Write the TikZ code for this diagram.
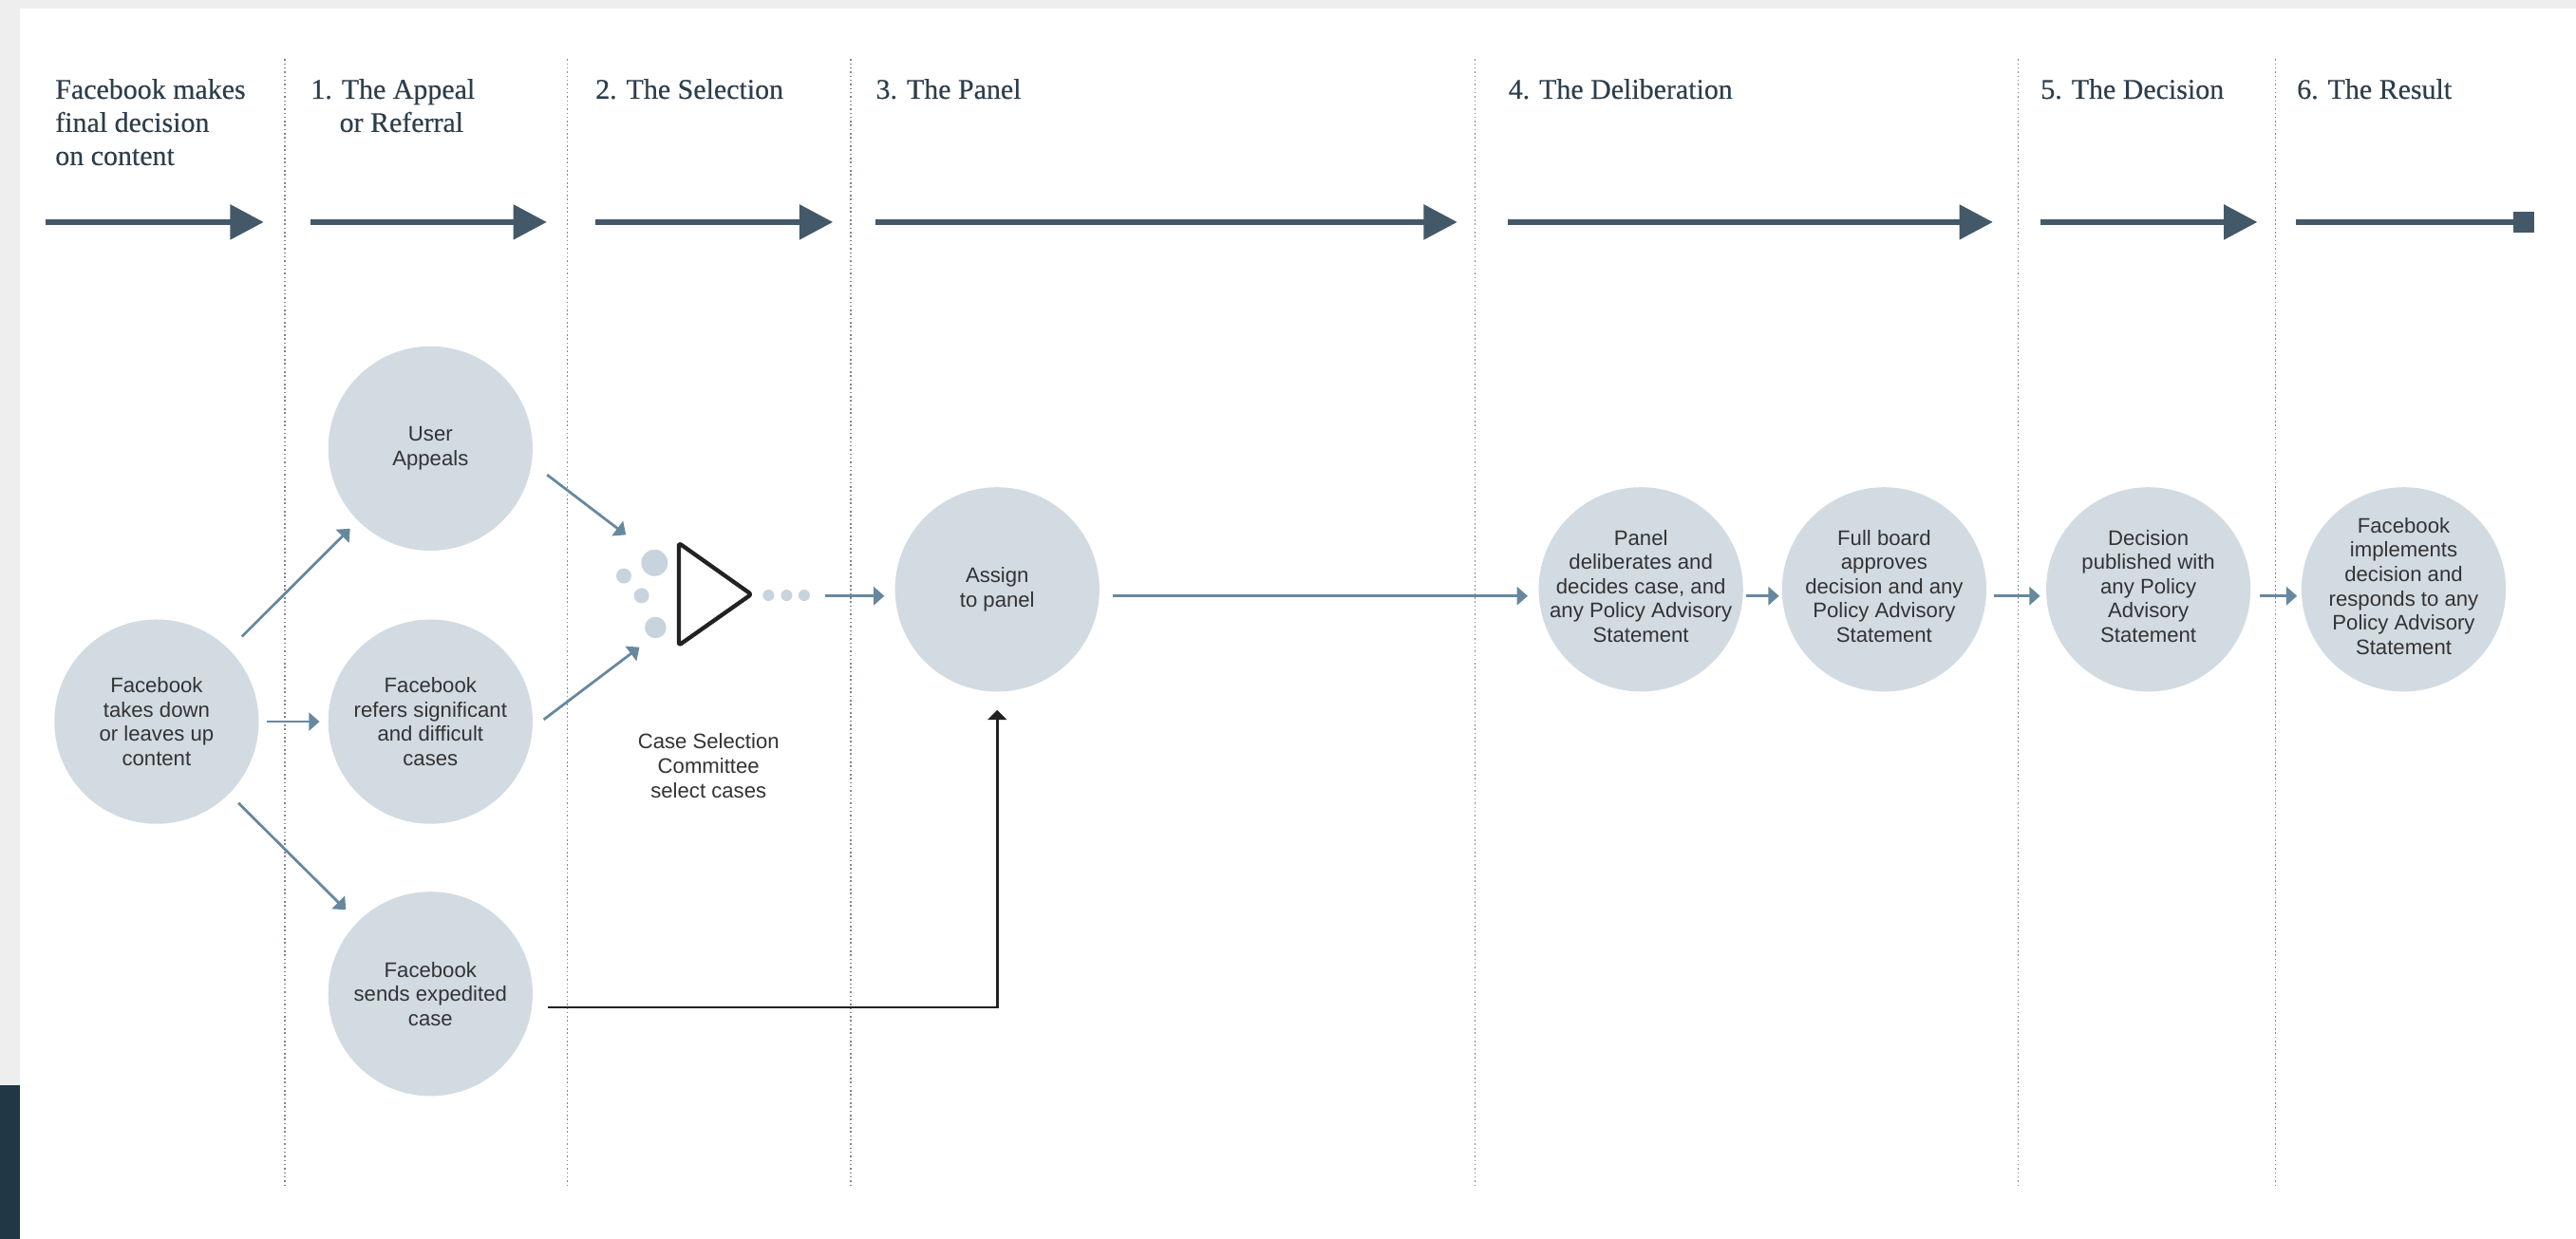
\documentclass[tikz,border=0pt]{standalone}
\usepackage{fontspec}
\setmainfont{Liberation Sans}
\newfontfamily\hdfont[FakeBold=0.3]{Liberation Serif}
\usetikzlibrary{arrows.meta,calc}
\definecolor{hdtext}{RGB}{45,62,75}
\definecolor{bigarrow}{RGB}{67,89,106}
\definecolor{thinblue}{RGB}{102,136,158}
\definecolor{circfill}{RGB}{210,219,226}
\definecolor{dotfill}{RGB}{200,212,221}
\definecolor{bodytext}{RGB}{51,51,51}
\definecolor{pagegray}{RGB}{238,238,238}
\definecolor{navy}{RGB}{33,55,70}
\definecolor{sepline}{RGB}{125,135,145}
\definecolor{darkline}{RGB}{34,34,34}
\begin{document}
\begin{tikzpicture}[x=1bp,y=-1bp,
  hdr/.style={anchor=north west, inner sep=0pt, align=left, text=hdtext, font=\hdfont\fontsize{17.3bp}{20.2bp}\selectfont},
  circ/.style={circle, fill=circfill, minimum size=124.4bp, inner sep=0pt, outer sep=0pt},
  ctext/.style={align=center, inner sep=0pt, text=bodytext, font=\fontsize{12.8bp}{14.8bp}\selectfont},
  bigarr/.style={draw=bigarrow, line width=3.2bp, -{Triangle[length=20.4bp,width=20.8bp]}},
  endarr/.style={draw=bigarrow, line width=3.2bp, -{Square[length=13bp,width=13bp]}},
  thinarr/.style={draw=thinblue, line width=1.6bp, -{Triangle[length=6.5bp,width=11bp]}},
  darkarr/.style={draw=darkline, line width=1.6bp, -{Triangle[length=6bp,width=11.5bp]}},
  vsep/.style={draw=sepline, line width=0.9bp, dash pattern=on 0.9bp off 1.6bp},
]
% background
\fill[pagegray] (0,0) rectangle (1568,754);
\fill[white] (12.1,5.2) rectangle (1568,754);
\fill[navy] (0,660.6) rectangle (12.1,754);
\useasboundingbox (0,0) rectangle (1568,754);

% column separators
\foreach \x in {173.4,345.4,517.9,897.8,1228.5,1385}
  \draw[vsep] (\x,36) -- (\x,722);

% headers
\node[hdr] (h0) at (33.5,47.9) {Facebook makes\\final decision\\on content};
\node[hdr] (h1) at (189,47.9) {1. The Appeal\\\hspace*{17.5bp}or Referral};
\node[hdr] (h2) at (362.3,47.9) {2. The Selection};
\node[hdr] (h3) at (533,47.9) {3. The Panel};
\node[hdr] (h4) at (918,47.9) {4. The Deliberation};
\node[hdr] (h5) at (1242,47.9) {5. The Decision};
\node[hdr] (h6) at (1398,47.9) {6. The Result};

% timeline arrows
\draw[bigarr] (27.9,135.2) -- (160.5,135.2);
\draw[bigarr] (189,135.2) -- (332.8,135.2);
\draw[bigarr] (362.3,135.2) -- (507,135.2);
\draw[bigarr] (533,135.2) -- (887,135.2);
\draw[bigarr] (918,135.2) -- (1213,135.2);
\draw[bigarr] (1242,135.2) -- (1374,135.2);
\draw[endarr] (1397.5,135.2) -- (1542.6,135.2);

% circles
\node[circ] (c0) at (95.3,439.3) {};
\node[ctext] (c0t) at (c0) {Facebook\\takes down\\or leaves up\\content};
\node[circ] (ua) at (262,273) {};
\node[ctext] (uat) at (ua) {User\\Appeals};
\node[circ] (rf) at (262,439.3) {};
\node[ctext] (rft) at (rf) {Facebook\\refers significant\\and difficult\\cases};
\node[circ] (ex) at (262,605) {};
\node[ctext] (ext) at (ex) {Facebook\\sends expedited\\case};
\node[circ] (as) at (607,358.8) {};
\node[ctext] (ast) at (as) {Assign\\to panel};
\node[circ] (pn) at (998.8,358.8) {};
\node[ctext] (pnt) at ([yshift=2bp]pn) {Panel\\deliberates and\\decides case, and\\any Policy Advisory\\Statement};
\node[circ] (fb) at (1146.9,358.8) {};
\node[ctext] (fbt) at ([yshift=2bp]fb) {Full board\\approves\\decision and any\\Policy Advisory\\Statement};
\node[circ] (dc) at (1307.7,358.8) {};
\node[ctext] (dct) at ([yshift=2bp]dc) {Decision\\published with\\any Policy\\Advisory\\Statement};
\node[circ] (im) at (1463.1,358.8) {};
\node[ctext] (imt) at ([yshift=2bp]im) {Facebook\\implements\\decision and\\responds to any\\Policy Advisory\\Statement};

% case selection committee
\coordinate (sel) at (431,362);
\fill[dotfill] (398.4,342.6) circle (8.1bp);
\fill[dotfill] (379.7,350.6) circle (4.6bp);
\fill[dotfill] (390.5,362.6) circle (4.6bp);
\fill[dotfill] (399,382) circle (6.5bp);
\fill[dotfill] (467.8,362.4) circle (3.5bp);
\fill[dotfill] (478.8,362.4) circle (3.5bp);
\fill[dotfill] (489.5,362.4) circle (3.5bp);
\draw[darkline, line width=2.5bp, line join=round, rounded corners=1.5bp]
  (413.2,330.6) -- (457.3,361.8) -- (413.2,392.8) -- cycle;
\node[ctext] (cst) at (431.3,466.2) {Case Selection\\Committee\\select cases};

% connectors
\draw[thinarr, shorten <=11.2bp, shorten >=6.9bp] (c0) -- (ua);
\draw[thinarr, shorten <=4.7bp, shorten >=5.3bp] (c0) -- (rf);
\draw[thinarr, shorten <=8bp, shorten >=10.4bp] (c0) -- (ex);
\draw[thinarr] ($(ua)+(71,16)$) -- ($(sel)+(-50,-36.4)$);
\draw[thinarr] ($(rf)+(69,-1.3)$) -- ($(sel)+(-41.8,32)$);
\draw[thinarr] ($(sel)+(71.3,0.8)$) -- ([shift={(-6.5,4)}]as.west);
\draw[thinarr] ([shift={(8,4)}]as.east) -- ([shift={(-6.7,4)}]pn.west);
\draw[thinarr] ([shift={(2.1,4)}]pn.east) -- ([shift={(-1.8,4)}]fb.west);
\draw[thinarr] ([shift={(4.4,4)}]fb.east) -- ([shift={(-3.7,4)}]dc.west);
\draw[thinarr] ([shift={(5.4,4)}]dc.east) -- ([shift={(-2.7,4)}]im.west);
\draw[darkarr] ([shift={(9,8.2)}]ex.east) -| ([yshift=-11.2bp]as.south);
\end{tikzpicture}
\end{document}
